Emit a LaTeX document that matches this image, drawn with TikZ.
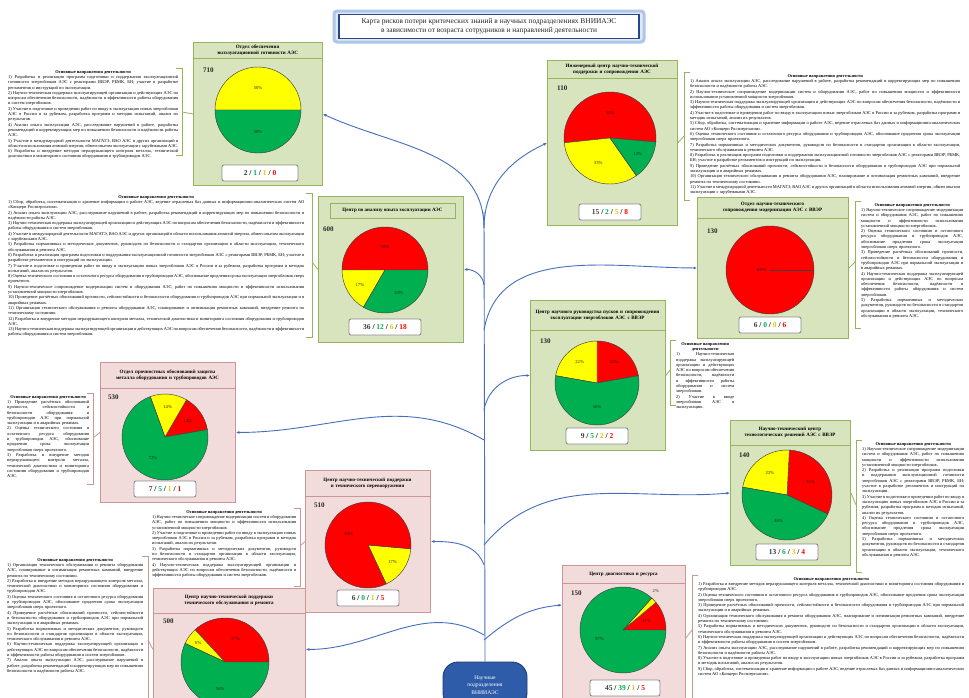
\documentclass[tikz,border=0pt]{standalone}
\usepackage{fontspec}
\setmainfont{Liberation Serif}
\usetikzlibrary{arrows.meta}
\definecolor{gfill}{RGB}{215,228,189}
\definecolor{gline}{RGB}{150,180,90}
\definecolor{pfill}{RGB}{242,220,219}
\definecolor{pline}{RGB}{205,150,150}
\definecolor{pred}{RGB}{255,0,0}
\definecolor{pyel}{RGB}{255,255,0}
\definecolor{pgrn}{RGB}{0,176,80}
\definecolor{syel}{RGB}{225,200,0}
\definecolor{tblue}{RGB}{70,110,190}
\definecolor{nblue}{RGB}{46,92,168}
\definecolor{ndark}{RGB}{30,60,120}
\definecolor{tfr}{RGB}{175,198,230}
\definecolor{tdk}{RGB}{40,70,140}
\definecolor{sgray}{RGB}{60,60,60}

\newcommand\rka{Разработка и реализация программ подготовки и поддержания эксплуатационной готовности энергоблоков АЭС с реакторами ВВЭР, РБМК, БН; участие в разработке регламентов и инструкций по эксплуатации.}
\newcommand\rkb{Научно-техническая поддержка эксплуатирующей организации и действующих АЭС по вопросам обеспечения безопасности, надёжности и эффективности работы оборудования и систем энергоблоков.}
\newcommand\rkc{Участие в подготовке и проведении работ по вводу в эксплуатацию новых энергоблоков АЭС в России и за рубежом, разработка программ и методик испытаний, анализ их результатов.}
\newcommand\rkd{Анализ опыта эксплуатации АЭС, расследование нарушений в работе, разработка рекомендаций и корректирующих мер по повышению безопасности и надёжности работы АЭС.}
\newcommand\rke{Участие в международной деятельности МАГАТЭ, ВАО АЭС и других организаций в области использования атомной энергии, обмен опытом эксплуатации с зарубежными АЭС.}
\newcommand\rkf{Сбор, обработка, систематизация и хранение информации о работе АЭС, ведение отраслевых баз данных и информационно-аналитических систем АО «Концерн Росэнергоатом».}
\newcommand\rkg{Оценка технического состояния и остаточного ресурса оборудования и трубопроводов АЭС, обоснование продления срока эксплуатации энергоблоков сверх проектного.}
\newcommand\rkh{Разработка и внедрение методов неразрушающего контроля металла, технической диагностики и мониторинга состояния оборудования и трубопроводов АЭС.}
\newcommand\rki{Научно-техническое сопровождение модернизации систем и оборудования АЭС, работ по повышению мощности и эффективности использования установленной мощности энергоблоков.}
\newcommand\rkj{Разработка нормативных и методических документов, руководств по безопасности и стандартов организации в области эксплуатации, технического обслуживания и ремонта АЭС.}
\newcommand\rkk{Проведение расчётных обоснований прочности, сейсмостойкости и безопасности оборудования и трубопроводов АЭС при нормальной эксплуатации и в аварийных режимах.}
\newcommand\rkl{Организация технического обслуживания и ремонта оборудования АЭС, планирование и оптимизация ремонтных кампаний, внедрение ремонта по техническому состоянию.}
\newcommand\dhead{{\centering\bfseries Основные направления деятельности\par}}
\newcommand\pieslice[4]{\filldraw[fill=#4,draw=black!75,line width=0.45pt] (0,0) -- (#1:#3) arc[start angle=#1,end angle=#2,radius=#3] -- cycle;}
\newcommand\statline[4]{\textcolor{sgray}{#1} / \textcolor{pgrn}{#2} / \textcolor{syel}{#3} / \textcolor{pred}{#4}}

\tikzset{
  gbox/.style={draw=gline,fill=gfill,line width=0.9pt,anchor=north west,inner sep=0pt},
  pbox/.style={draw=pline,fill=pfill,line width=0.9pt,anchor=north west,inner sep=0pt},
  ttl/.style={font=\fontsize{5}{5.8}\selectfont\bfseries,align=center,text width=#1,inner sep=0pt},
  num/.style={font=\fontsize{7}{8}\selectfont\bfseries,anchor=west,inner sep=0pt,text=black!85},
  plab/.style={font=\fontsize{4.6}{5}\selectfont,inner sep=0pt,text=black!85},
  stat/.style={draw=black!45,fill=white,rounded corners=2pt,line width=0.9pt,minimum width=62pt,minimum height=16pt,inner sep=1pt,font=\fontsize{7.5}{8}\selectfont\bfseries},
  dsc/.style={font=\fontsize{4.4}{5.3}\selectfont,align=justify,anchor=north west,inner sep=0pt,text=black},
  brk/.style={line width=0.8pt},
  tree/.style={draw=tblue,line width=0.9pt,-{Latex[length=3.5pt,width=3pt]}},
}

\begin{document}
\begin{tikzpicture}[x=1pt,y=-1pt]
\useasboundingbox (0,0) rectangle (969,697);
\fill[white] (0,0) rectangle (969,697);

% ---------- title ----------
\draw[draw=tfr,fill=tfr!40,line width=3pt,rounded corners=3pt] (334,11) rectangle (644,42);
\node[draw=tdk,fill=white,line width=1.1pt,minimum width=300pt,minimum height=24pt,inner sep=0pt,
  font=\fontsize{7.4}{9}\selectfont,align=center,text=black!85] (title) at (489,26.5)
  {Карта рисков потери критических знаний в научных подразделениях ВНИИАЭС\\в зависимости от возраста сотрудников и направлений деятельности};

% ---------- boxes ----------
\node[gbox,minimum width=129pt,minimum height=143pt] (A) at (193,42) {};
\draw[gline,line width=0.9pt] (193,58) -- (322,58);
\node[ttl=124pt] (At) at (257.5,50) {Отдел обеспечения эксплуатационной готовности АЭС};
\node[num] (An) at (203,70) {710};

\node[gbox,minimum width=130pt,minimum height=165pt] (B) at (547,60) {};
\draw[gline,line width=0.9pt] (547,78) -- (677,78);
\node[ttl=125pt] (Bt) at (612,69) {Инженерный центр научно-технической поддержки и сопровождения АЭС};
\node[num] (Bn) at (557,88) {110};

\node[gbox,minimum width=145pt,minimum height=146pt] (C) at (318,196) {};
\node[draw=gline,fill=gfill,line width=0.9pt,minimum width=125pt,minimum height=15pt,inner sep=0pt,
  font=\fontsize{5}{5.8}\selectfont\bfseries] (Ct) at (392.5,210.5) {Центр по анализу опыта эксплуатации АЭС};
\node[num] (Cn) at (323,229) {600};

\node[gbox,minimum width=151pt,minimum height=141pt] (D) at (697,197) {};
\draw[gline,line width=0.9pt] (697,218) -- (848,218);
\node[ttl=145pt] (Dt) at (772.5,207.5) {Отдел научно-технического сопровождения модернизации АЭС с ВВЭР};
\node[num] (Dn) at (707,231) {130};

\node[gbox,minimum width=135pt,minimum height=150pt] (E) at (530,300) {};
\draw[gline,line width=0.9pt] (530,330) -- (665,330);
\node[ttl=128pt] (Et) at (597.5,315) {Центр научного руководства пусков и сопровождения эксплуатации энергоблоков АЭС с ВВЭР};
\node[num] (En) at (540,341) {130};

\node[pbox,minimum width=135pt,minimum height=140pt] (F) at (100,362) {};
\draw[pline,line width=0.9pt] (100,388) -- (235,388);
\node[ttl=128pt] (Ft) at (167.5,375) {Отдел прочностных обоснований защиты металла оборудования и трубопроводов АЭС};
\node[num] (Fn) at (108,397) {530};

\node[gbox,minimum width=120pt,minimum height=145pt] (G) at (730,420) {};
\draw[gline,line width=0.9pt] (730,445) -- (850,445);
\node[ttl=114pt] (Gt) at (790,432.5) {Научно-технический центр технологических решений АЭС с ВВЭР};
\node[num] (Gn) at (739,455) {140};

\node[pbox,minimum width=125pt,minimum height=142pt] (H) at (305,470) {};
\draw[pline,line width=0.9pt] (305,496) -- (430,496);
\node[ttl=118pt] (Ht) at (367.5,483) {Центр научно-технической поддержки и технического перевооружения};
\node[num] (Hn) at (314,505) {510};

\node[pbox,minimum width=152pt,minimum height=122pt] (I) at (153,588) {};
\draw[pline,line width=0.9pt] (153,613) -- (305,613);
\node[ttl=145pt] (It) at (229,600.5) {Центр научно-технической поддержки технического обслуживания и ремонта};
\node[num] (In) at (163,621) {500};

\node[pbox,minimum width=123pt,minimum height=145pt] (J) at (562,565) {};
\draw[pline,line width=0.9pt] (562,583) -- (685,583);
\node[ttl=118pt] (Jt) at (623.5,574) {Центр диагностики и ресурса};
\node[num] (Jn) at (571,593) {150};

% ---------- pies ----------
\begin{scope}[shift={(258,110)},y=1pt]
\pieslice{0}{180}{43}{pyel}\pieslice{180}{360}{43}{pgrn}
\node[plab] at (90:22) {50\%};\node[plab] at (270:22) {50\%};
\end{scope}
\begin{scope}[shift={(610,138)},y=1pt]
\pieslice{-5}{186}{46}{pred}\pieslice{186}{305}{46}{pyel}\pieslice{305}{355}{46}{pgrn}
\node[plab] at (90:25) {53\%};\node[plab] at (245:28) {33\%};\node[plab] at (330:32) {13\%};
\end{scope}
\begin{scope}[shift={(385,270)},y=1pt]
\pieslice{0}{180}{43}{pred}\pieslice{180}{240}{43}{pyel}\pieslice{240}{360}{43}{pgrn}
\node[plab] at (90:23) {50\%};\node[plab] at (210:29) {17\%};\node[plab] at (300:27) {33\%};
\end{scope}
\begin{scope}[shift={(770,270)},y=1pt]
\filldraw[fill=pred,draw=black!75,line width=0.45pt] (0,0) circle (44);
\draw[black!75,line width=0.45pt] (0,0) -- (0:44);
\node[plab,anchor=east] at (-3,0) {100\%};
\end{scope}
\begin{scope}[shift={(597,383)},y=1pt]
\pieslice{10}{90}{42}{pred}\pieslice{90}{170}{42}{pyel}\pieslice{170}{370}{42}{pgrn}
\node[plab] at (50:27) {22\%};\node[plab] at (130:27) {22\%};\node[plab] at (270:24) {56\%};
\end{scope}
\begin{scope}[shift={(165,437)},y=1pt]
\pieslice{10}{60}{43}{pred}\pieslice{60}{110}{43}{pyel}\pieslice{110}{370}{43}{pgrn}
\node[plab] at (35:28) {14\%};\node[plab] at (85:30) {14\%};\node[plab] at (240:24) {72\%};
\end{scope}
\begin{scope}[shift={(787,495)},y=1pt]
\pieslice{-25}{87}{45}{pred}\pieslice{87}{170}{45}{pyel}\pieslice{170}{335}{45}{pgrn}
\node[plab] at (30:27) {31\%};\node[plab] at (128:28) {23\%};\node[plab] at (252:27) {46\%};
\end{scope}
\begin{scope}[shift={(368,545)},y=1pt]
\pieslice{-65}{-5}{43}{pyel}\pieslice{-5}{295}{43}{pred}
\node[plab] at (-35:30) {17\%};\node[plab] at (150:22) {83\%};
\end{scope}
\begin{scope}[shift={(225,662)},y=1pt]
\pieslice{0}{133}{44}{pred}\pieslice{133}{155}{44}{pyel}\pieslice{155}{360}{44}{pgrn}
\node[plab] at (65:25) {37\%};\node[plab] at (144:33) {6\%};\node[plab] at (260:27) {56\%};
\end{scope}
\begin{scope}[shift={(623,630)},y=1pt]
\pieslice{0}{40}{43}{pred}\pieslice{40}{48}{43}{pyel}\pieslice{48}{360}{43}{pgrn}
\node[plab] at (20:25) {11\%};\node[plab] at (50:51) {2\%};\node[plab] at (200:25) {87\%};
\end{scope}

% ---------- stats ----------
\node[stat,minimum width=76pt] (As) at (260,173) {\statline{2}{1}{1}{0}};
\node[stat] (Bs) at (610,212) {\statline{15}{2}{5}{8}};
\node[stat,minimum width=72pt] (Cs) at (385,327) {\statline{36}{12}{6}{18}};
\node[stat] (Ds) at (770,325) {\statline{6}{0}{0}{6}};
\node[stat] (Es) at (597,436) {\statline{9}{5}{2}{2}};
\node[stat] (Fs) at (165,489) {\statline{7}{5}{1}{1}};
\node[stat] (Gs) at (787,552) {\statline{13}{6}{3}{4}};
\node[stat] (Hs) at (368,598) {\statline{6}{0}{1}{5}};
\node[stat,minimum width=70pt] (Js) at (625,688) {\statline{45}{39}{1}{5}};

% ---------- descriptions ----------
\node[dsc,text width=170pt] (dA) at (8,70) {\dhead 1) \rka\par 2) \rkb\par 3) \rkc\par 4) \rkd\par 5) \rke\par 6) \rkh\par};
\node[dsc,text width=270pt] (dB) at (690,74) {\dhead 1) \rkd\par 2) \rki\par 3) \rkb\par 4) \rkc\par 5) \rkf\par 6) \rkg\par 7) \rkj\par 8) \rka\par 9) \rkk\par 10) \rkl\par 11) \rke\par};
\node[dsc,text width=296pt] (dC) at (8,195) {\dhead 1) \rkf\par 2) \rkd\par 3) \rkb\par 4) \rke\par 5) \rkj\par 6) \rka\par 7) \rkc\par 8) \rkg\par 9) \rki\par 10) \rkk\par 11) \rkl\par 12) \rkh\par 13) \rkb\par};
\node[dsc,text width=102pt] (dD) at (861,203) {\dhead 1) \rki\par 2) \rkg\par 3) \rkk\par 4) \rkb\par 5) \rkj\par};
\node[dsc,text width=58pt] (dE) at (676,342) {\dhead 1) \rkb\par 2) Участие в вводе энергоблоков АЭС в эксплуатацию.\par};
\node[dsc,text width=82pt] (dF) at (7,395) {\dhead 1) \rkk\par 2) \rkg\par 3) \rkh\par};
\node[dsc,text width=102pt] (dG) at (862,442) {\dhead 1) \rki\par 2) \rka\par 3) \rkc\par 4) \rkg\par 5) \rkj\par};
\node[dsc,text width=144pt] (dH) at (152,510) {\dhead 1) \rki\par 2) \rkc\par 3) \rkj\par 4) \rkb\par};
\node[dsc,text width=136pt] (dI) at (7,558) {\dhead 1) \rkl\par 2) \rkh\par 3) \rkg\par 4) \rkk\par 5) \rkj\par 6) \rkb\par 7) \rkd\par};
\node[dsc,text width=266pt] (dJ) at (698,577) {\dhead 1) \rkh\par 2) \rkg\par 3) \rkk\par 4) \rkl\par 5) \rkj\par 6) \rkb\par 7) \rkd\par 8) \rkc\par 9) \rkf\par};

% ---------- brackets and their connectors ----------
\draw[brk,gline] (176,68) -- (182,68) -- (182,155) -- (176,155);
\coordinate (bA) at (182,112); \draw[brk,gline] (bA) -- (A.west);
\draw[brk,gline] (690,72) -- (684,72) -- (684,200) -- (690,200);
\coordinate (bB) at (684,136); \draw[brk,gline] (bB) -- (B.east);
\draw[brk,gline] (306,193) -- (312,193) -- (312,337) -- (306,337);
\coordinate (bC) at (312,262); \draw[brk,gline] (bC) -- (C.west);
\draw[brk,gline] (861,201) -- (855,201) -- (855,328) -- (861,328);
\coordinate (bD) at (855,262); \draw[brk,gline] (bD) -- (D.east);
\draw[brk,gline] (676,340) -- (670,340) -- (670,405) -- (676,405);
\coordinate (bE) at (670,370); \draw[brk,gline] (bE) -- (E.east);
\draw[brk,pline] (87,393) -- (93,393) -- (93,484) -- (87,484);
\coordinate (bF) at (93,438); \draw[brk,pline] (bF) -- (F.west);
\draw[brk,gline] (862,440) -- (856,440) -- (856,572) -- (862,572);
\coordinate (bG) at (856,505); \draw[brk,gline] (bG) -- (G.east);
\draw[brk,pline] (294,508) -- (300,508) -- (300,586) -- (294,586);
\coordinate (bH) at (300,546); \draw[brk,pline] (bH) -- (H.west);
\draw[brk,pline] (142,556) -- (148,556) -- (148,700);
\coordinate (bI) at (148,640); \draw[brk,pline] (bI) -- (I.west);
\draw[brk,pline] (698,575) -- (692,575) -- (692,700);
\coordinate (bJ) at (692,630); \draw[brk,pline] (bJ) -- (J.east);

% ---------- root node and tree ----------
\node[draw=ndark,fill=nblue,line width=0.9pt,rounded corners=15pt,minimum width=84pt,minimum height=46pt,
  text=white,font=\fontsize{5.6}{7.6}\selectfont,align=center,inner sep=0pt] (root) at (485,685)
  {Научные\\подразделения\\ВНИИАЭС};
\coordinate (t0) at (484,212);
\coordinate (tA) at (484,228);
\coordinate (tC) at (484,285);
\coordinate (tD) at (484,330);
\coordinate (tE) at (484,410);
\coordinate (tF) at (484,440);
\coordinate (tH) at (484,565);
\coordinate (tG) at (484,545);
\coordinate (tI) at (484,635);
\coordinate (tJ) at (484,640);
\draw[draw=tblue,line width=0.9pt] (root.north) -- (t0);
\draw[tree] (tA) to[out=90,in=-25] (A.east);
\draw[tree] (tA) to[out=90,in=205] (B.west);
\draw[tree] (tC) to[out=95,in=0] (C.east);
\draw[tree] (tD) to[out=80,in=180] (D.west);
\draw[tree] (tE) to[out=80,in=180] (E.west);
\draw[tree] (tF) to[out=150,in=0] (F.east);
\draw[tree] (tG) to[out=50,in=185] (G.west);
\draw[tree] (tH) to[out=110,in=0] (H.east);
\draw[tree] (tI) to[out=150,in=0] (I.east);
\coordinate (Jw) at (562,605);
\draw[tree] (tJ) to[out=40,in=185] (Jw);
\end{tikzpicture}
\end{document}
